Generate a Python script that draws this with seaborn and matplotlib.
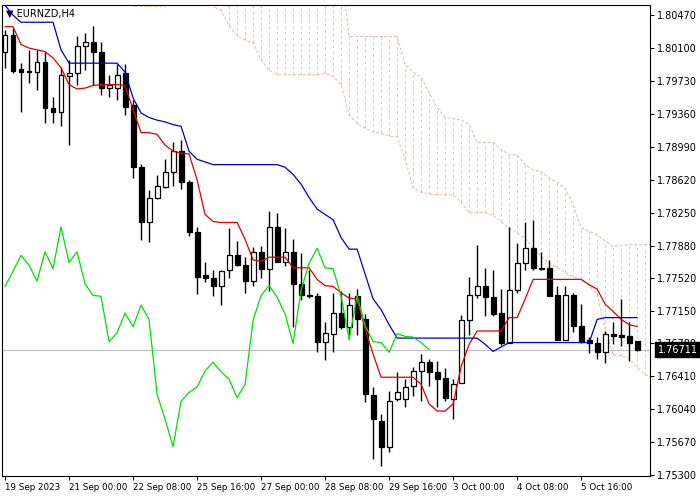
import numpy as np
import pandas as pd
import matplotlib
matplotlib.use("Agg")
import matplotlib.pyplot as plt
import seaborn as sns

opens = [1.8006,1.8025,1.7987,1.7984,1.7983,1.7994,1.7943,1.7938,1.7979,1.7982,
         1.8012,1.8017,1.8006,1.7965,1.7965,1.7982,1.7946,1.7876,1.7815,1.7842,
         1.7854,1.7871,1.7894,1.7860,1.7803,1.7755,1.7752,1.7742,1.7760,1.7777,
         1.7766,1.7748,1.7781,1.7762,1.7809,1.7770,1.7781,1.7745,1.7732,1.7731,
         1.7680,1.7689,1.7712,1.7697,1.7731,1.7705,1.7620,1.7591,1.7562,1.7615,
         1.7615,1.7630,1.7647,1.7657,1.7646,1.7639,1.7615,1.7633,1.7704,1.7732,
         1.7742,1.7730,1.7712,1.7678,1.7738,1.7768,1.7785,1.7763,1.7763,1.7732,
         1.7682,1.7732,1.7698,1.7682,1.7678,1.7668,1.7689,1.7688,1.7686,1.7681]
closes = [1.8025,1.7984,1.7983,1.7983,1.7994,1.7943,1.7938,1.7980,1.7982,1.8012,
          1.8017,1.8006,1.7965,1.7969,1.7980,1.7944,1.7876,1.7815,1.7841,1.7855,
          1.7871,1.7894,1.7860,1.7803,1.7753,1.7752,1.7742,1.7759,1.7777,1.7766,
          1.7748,1.7781,1.7762,1.7809,1.7769,1.7781,1.7745,1.7732,1.7731,1.7680,
          1.7690,1.7712,1.7697,1.7721,1.7705,1.7621,1.7593,1.7562,1.7613,1.7623,
          1.7629,1.7647,1.7657,1.7646,1.7638,1.7617,1.7632,1.7704,1.7732,1.7743,
          1.7730,1.7711,1.7678,1.7738,1.7768,1.7785,1.7763,1.7762,1.7731,1.7682,
          1.7732,1.7698,1.7680,1.7679,1.7668,1.7689,1.7686,1.7685,1.7679,1.76711]
highs = [1.8030,1.8033,1.7993,1.8008,1.8008,1.8006,1.7955,1.7989,1.7997,1.8024,
         1.8027,1.8035,1.8017,1.7980,1.7992,1.7992,1.7952,1.7880,1.7851,1.7867,
         1.7885,1.7904,1.7907,1.7862,1.7809,1.7770,1.7761,1.7761,1.7808,1.7793,
         1.7775,1.7786,1.7787,1.7827,1.7825,1.7808,1.7795,1.7780,1.7761,1.7735,
         1.7702,1.7735,1.7737,1.7735,1.7739,1.7711,1.7629,1.7599,1.7624,1.7646,
         1.7638,1.7651,1.7666,1.7660,1.7658,1.7650,1.7638,1.7710,1.7753,1.7789,
         1.7763,1.7761,1.7739,1.7809,1.7791,1.7814,1.7817,1.7781,1.7772,1.7742,
         1.7742,1.7735,1.7722,1.7685,1.7685,1.7692,1.7702,1.7728,1.7702,1.7681]
lows = [1.7988,1.7982,1.7938,1.7971,1.7963,1.7926,1.7926,1.7922,1.7901,1.7969,
        1.7985,1.7969,1.7957,1.7955,1.7952,1.7935,1.7864,1.7794,1.7792,1.7840,
        1.7853,1.7855,1.7852,1.7799,1.7734,1.7747,1.7731,1.7721,1.7752,1.7765,
        1.7735,1.7742,1.7752,1.7737,1.7769,1.7765,1.7697,1.7727,1.7729,1.7668,
        1.7659,1.7668,1.7694,1.7688,1.7688,1.7612,1.7548,1.7540,1.7556,1.7613,
        1.7607,1.7619,1.7613,1.7630,1.7607,1.7613,1.7593,1.7633,1.7688,1.7729,
        1.7709,1.7709,1.7676,1.7678,1.7735,1.7760,1.7761,1.7761,1.7731,1.7682,
        1.7682,1.7691,1.7679,1.7667,1.7660,1.7656,1.7677,1.7675,1.7658,1.7670]

tenkan = [1.8034,1.8034,1.8014,1.8010,1.8008,1.8006,1.7999,1.7988,1.7969,1.7964,
          1.7965,1.7968,1.7969,1.7969,1.7969,1.7968,1.7941,1.7915,1.7915,1.7913,
          1.7901,1.7894,1.7892,1.7891,1.7862,1.7823,1.7815,1.7814,1.7814,1.7814,
          1.7795,1.7772,1.7770,1.7775,1.7775,1.7775,1.7763,1.7763,1.7763,1.7750,
          1.7743,1.7742,1.7735,1.7729,1.7728,1.7694,1.7666,1.7640,1.7640,1.7640,
          1.7640,1.7640,1.7632,1.7610,1.7602,1.7602,1.7610,1.7652,1.7677,1.7692,
          1.7692,1.7692,1.7692,1.7707,1.7707,1.7728,1.7750,1.7750,1.7750,1.7750,
          1.7750,1.7750,1.7750,1.7744,1.7739,1.7722,1.7714,1.7705,1.7699,1.7697]
kijun = [1.8058,1.8047,1.8039,1.8039,1.8039,1.8039,1.8039,1.8008,1.7993,1.7993,
         1.7993,1.7993,1.7993,1.7993,1.7993,1.7983,1.7954,1.7937,1.7932,1.7929,
         1.7927,1.7924,1.7922,1.7894,1.7885,1.7882,1.7879,1.7879,1.7879,1.7879,
         1.7879,1.7879,1.7879,1.7879,1.7879,1.7876,1.7868,1.7857,1.7842,1.7829,
         1.7823,1.7817,1.7797,1.7784,1.7784,1.7756,1.7728,1.7716,1.7699,1.7684,
         1.7684,1.7684,1.7684,1.7684,1.7684,1.7684,1.7684,1.7684,1.7684,1.7684,
         1.7677,1.7669,1.7674,1.7679,1.7679,1.7679,1.7679,1.7679,1.7679,1.7679,
         1.7679,1.7679,1.7679,1.7679,1.7705,1.7707,1.7707,1.7707,1.7707,1.7707]
OFF_LO, OFF_HI = 1.8080, 1.8100
span_a = [OFF_LO]*16 + [1.8057]*5 + [OFF_LO]*5 + [
          1.8057,1.8052,1.8035,1.8024,1.8019,1.8016,1.7997,1.7985,1.7980,1.7980,
          1.7980,1.7980,1.7980,1.7980,1.7982,1.7978,1.7969,1.7935,1.7925,1.7920,
          1.7916,1.7914,1.7911,1.7910,1.7885,1.7853,1.7848,1.7846,1.7845,1.7845,
          1.7845,1.7837,1.7825,1.7825,1.7825,1.7822,1.7815,1.7807,1.7802,1.7796,
          1.7786,1.7776,1.7768,1.7763,1.7758,1.7753,1.7750,1.7743,1.7733,1.7694,
          1.7665,1.7664,1.7661,1.7651,1.7643,1.7639]
span_b = [OFF_HI]*43 + [1.8023]*7 + [
          1.7991,1.7983,1.7977,1.7960,1.7943,1.7932,1.7931,1.7929,1.7924,1.7904,
          1.7904,1.7904,1.7896,1.7890,1.7890,1.7879,1.7873,1.7871,1.7864,1.7859,
          1.7852,1.7834,1.7808,1.7804,1.7800,1.7793,1.7787,1.7788,1.7789,1.7789,
          1.7789,1.7789]
tick_labels = ["19 Sep 2023", "21 Sep 00:00", "22 Sep 08:00", "25 Sep 16:00",
               "27 Sep 00:00", "28 Sep 08:00", "29 Sep 16:00", "3 Oct 00:00",
               "4 Oct 08:00", "5 Oct 16:00"]
y_ticks = [1.80470,1.80100,1.79730,1.79360,1.78990,1.78620,1.78250,1.77880,
           1.77520,1.77150,1.76780,1.76410,1.76040,1.75670,1.75300]

sns.set_style("white")
plt.rcParams['font.family'] = ['DejaVu Sans']
fig = plt.figure(figsize=(7, 5), dpi=100)
ax = fig.add_axes([2/700, 24/500, 648/700, 471/500])

n = len(opens)
idx = np.arange(n)
cidx = np.arange(len(span_a))

# cloud
for i in cidx:
    lo, hi = min(span_a[i], span_b[i]), max(span_a[i], span_b[i])
    ax.vlines(i, lo, hi, colors="#e6c8b8", linestyles=(0, (3, 3)), lw=0.7, zorder=1)
cloud = pd.DataFrame({"i": cidx, "a": span_a, "b": span_b})
sns.lineplot(data=cloud, x="i", y="a", ax=ax, color="#f4a070", lw=0.7,
             linestyle=(0, (3, 2)), zorder=2, alpha=0.8)
sns.lineplot(data=cloud, x="i", y="b", ax=ax, color="#d8b8a8", lw=0.7,
             linestyle=(0, (3, 2)), zorder=2)

ax.axhline(closes[-1], color="#c0c0c0", lw=0.8, zorder=1)

for i in idx:
    o, c, h, l = opens[i], closes[i], highs[i], lows[i]
    ax.vlines(i, l, h, colors="black", lw=1, zorder=3)
    bull = c >= o
    ax.bar(i, max(abs(c - o), 0.00008), bottom=min(o, c), width=0.62,
           color="white" if bull else "black", edgecolor="black", lw=0.9, zorder=4)

lines = pd.DataFrame({"i": idx, "tenkan": tenkan, "kijun": kijun})
sns.lineplot(data=lines, x="i", y="tenkan", ax=ax, color="#e00000", lw=0.9, zorder=5)
sns.lineplot(data=lines, x="i", y="kijun", ax=ax, color="#0000c0", lw=0.9, zorder=5)
chik = pd.DataFrame({"i": np.arange(n - 26), "c": closes[26:]})
sns.lineplot(data=chik, x="i", y="c", ax=ax, color="#00e000", lw=0.9, zorder=5)

ax.set_xlim(-0.375, 80.6)
ax.set_ylim(1.7529, 1.80584)
ax.set_xlabel("")
ax.set_ylabel("")
ax.yaxis.tick_right()
ax.set_yticks(y_ticks)
ax.set_yticklabels([f"{v:.5f}" for v in y_ticks], fontsize=7)
xt = np.arange(0, 80, 8)
ax.set_xticks(xt)
ax.set_xticklabels(tick_labels, fontsize=6.3, ha="left")
ax.tick_params(axis="both", direction="out", length=3, width=0.8, colors="black",
               left=False, right=True, bottom=True, pad=2)
for s in ax.spines.values():
    s.set_color("black")
    s.set_linewidth(0.8)
ax.text(0.006, 0.992, "\u25bc EURNZD,H4", transform=ax.transAxes, fontsize=7,
        va="top", ha="left", color="black")
ax.text(1.012, closes[-1], f"{closes[-1]:.5f}", transform=ax.get_yaxis_transform(),
        fontsize=7, va="center", ha="left", color="white",
        bbox=dict(boxstyle="square,pad=0.25", fc="black", ec="black"), zorder=10,
        clip_on=False)
fig.savefig("out.png", dpi=100)
